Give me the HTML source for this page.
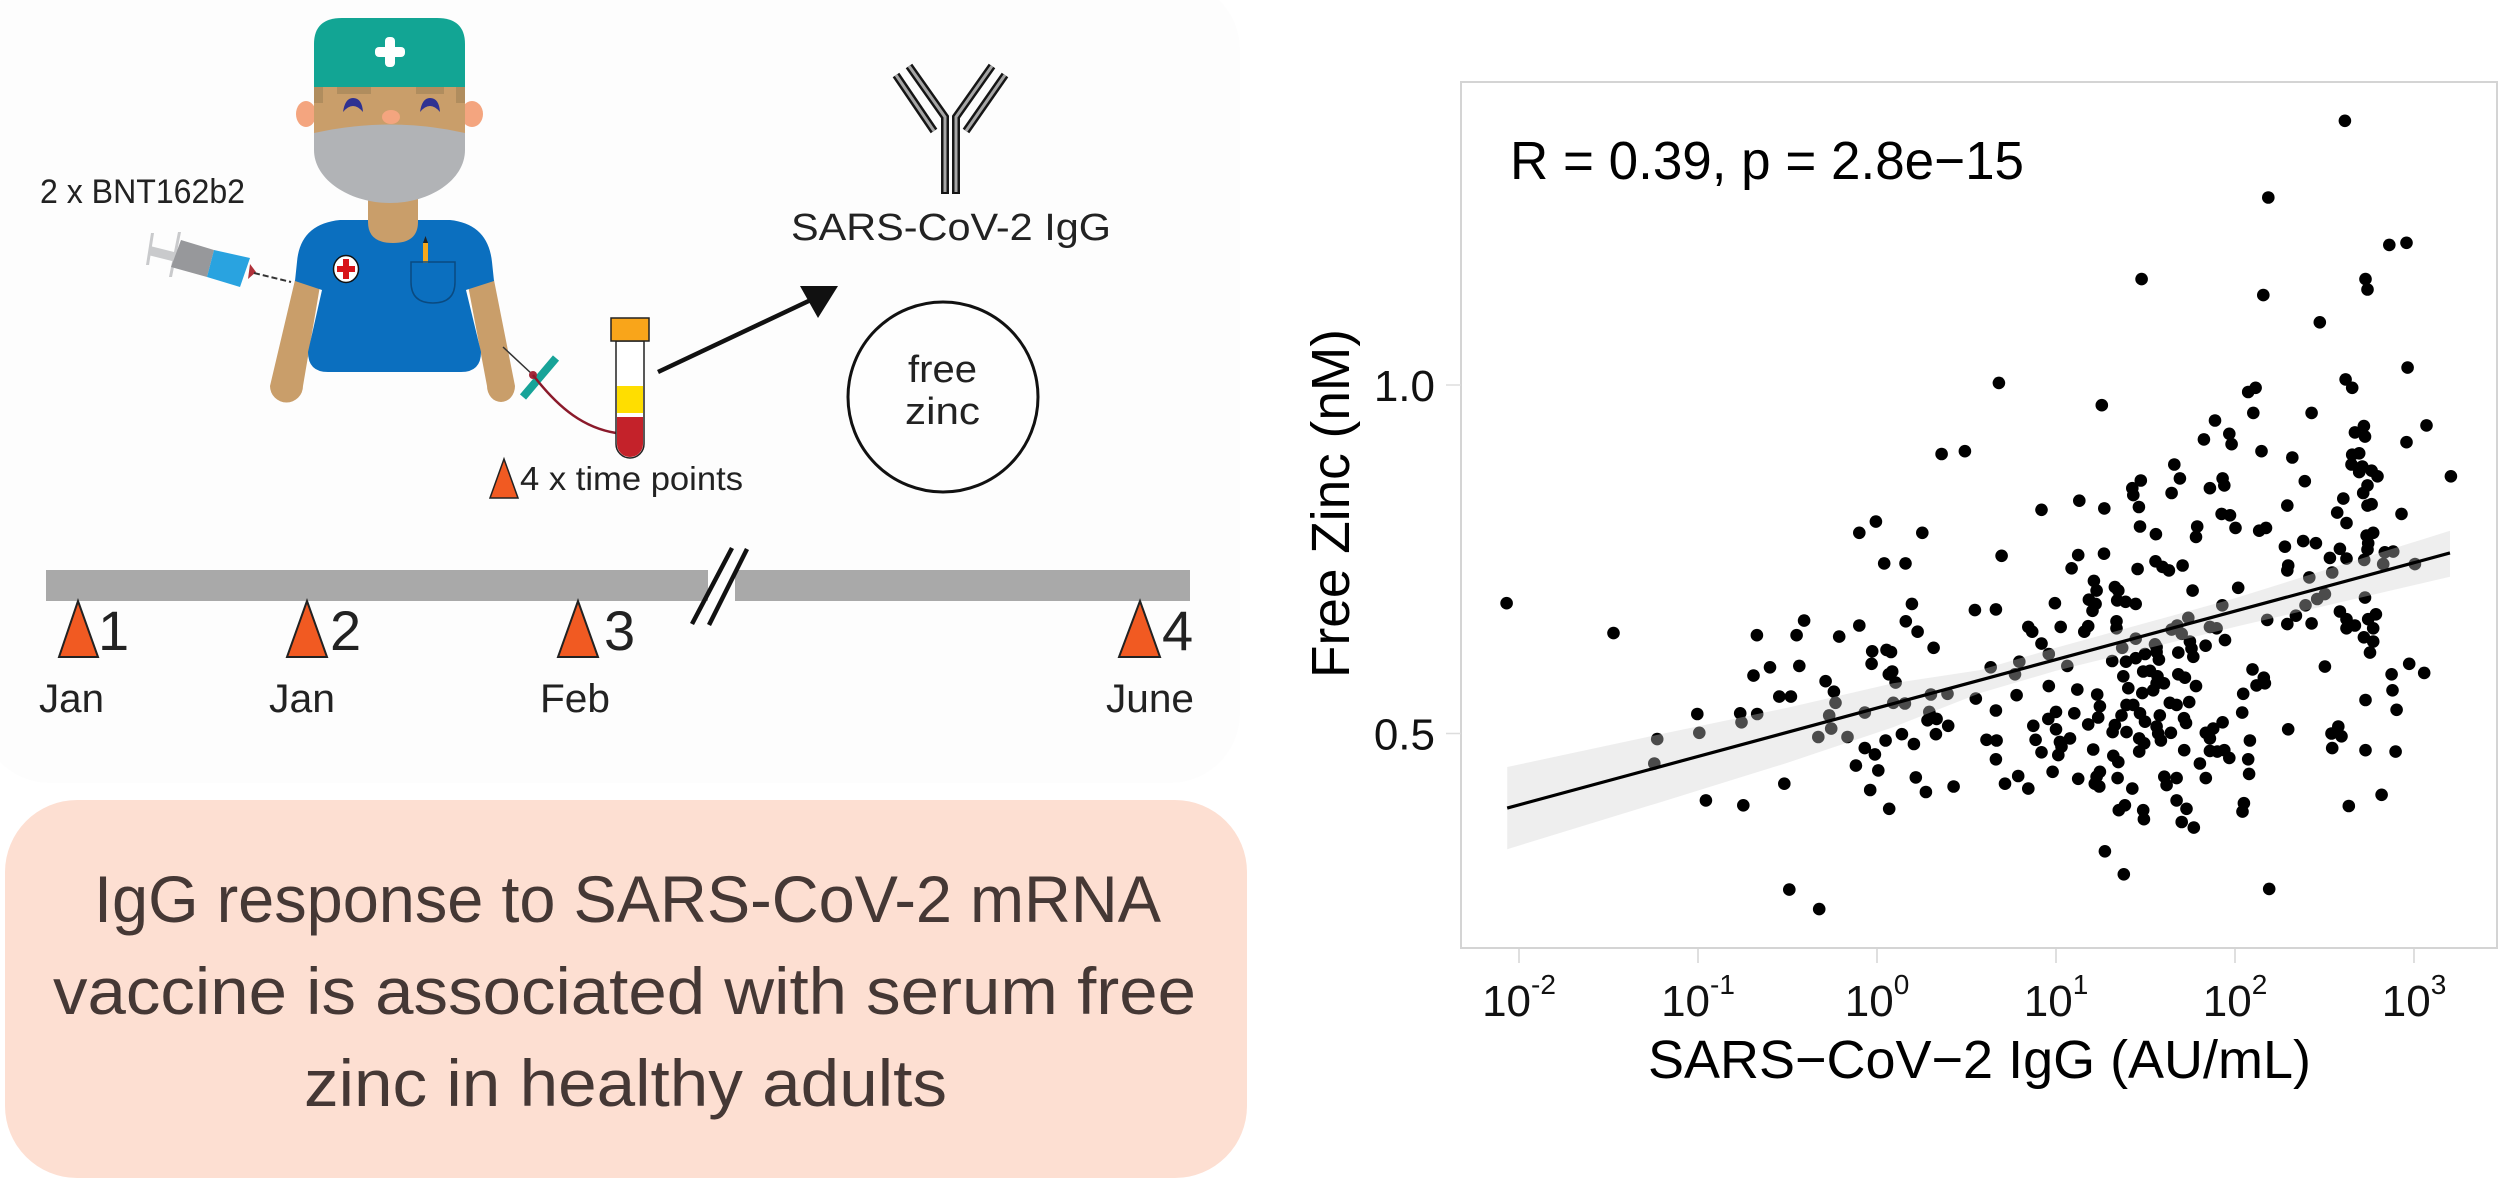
<!DOCTYPE html>
<html lang="en">
<head>
<meta charset="utf-8">
<title>IgG response and serum free zinc</title>
<style>
html,body{margin:0;padding:0;background:#fff;width:2500px;height:1181px;overflow:hidden}
svg{display:block}
text{font-family:"Liberation Sans",sans-serif}
</style>
</head>
<body>
<svg id="fig" xmlns="http://www.w3.org/2000/svg" width="2500" height="1181" viewBox="0 0 2500 1181">
<rect x="0" y="0" width="2500" height="1181" fill="#ffffff"/>
<rect x="-20" y="-20" width="1260" height="803" rx="70" fill="#fdfdfd"/>

<g>
  <path d="M295 280 L321 280 L303 386 A16.5 16.5 0 0 1 270 386 Z" fill="#c99e6a"/>
  <path d="M467 280 L494 280 L515 386 A14 16 0 0 1 487 386 Z" fill="#c99e6a"/>
  <path d="M340 220 H450 Q488 224 492 262 L494 281 L466 290 L481 352 Q481 372 461 372 H328 Q308 372 308 352 L322 290 L295 281 L297 262 Q300 224 340 220 Z" fill="#0b6fbf"/>
  <path d="M368 195 H418 V222 Q418 243 393 243 Q368 243 368 222 Z" fill="#c99e6a"/>
  <ellipse cx="306" cy="114" rx="10" ry="13" fill="#f4a57f"/>
  <ellipse cx="472" cy="114" rx="11" ry="13" fill="#f4a57f"/>
  <rect x="314" y="85" width="151" height="55" fill="#c99e6a"/>
  <rect x="314" y="87" width="9" height="16" fill="#b08d5e"/>
  <rect x="456" y="87" width="9" height="16" fill="#b08d5e"/>
  <rect x="337" y="87" width="34" height="7" fill="#b08d5e"/>
  <rect x="416" y="87" width="28" height="7" fill="#b08d5e"/>
  <path d="M343 112 Q345 98 353 98 Q362 98 363 112 Q353 100 343 112 Z" fill="#2e3192"/>
  <path d="M420 112 Q422 98 430 98 Q439 98 440 112 Q430 100 420 112 Z" fill="#2e3192"/>
  <ellipse cx="391" cy="117" rx="9" ry="7" fill="#f4a57f"/>
  <path d="M314 133 Q390 116 465 133 V150 C465 180 430 203 390 203 C350 203 314 180 314 150 Z" fill="#b1b3b6"/>
  <path d="M314 87 V44 Q314 18 342 18 H437 Q465 18 465 44 V87 Z" fill="#12a594"/>
  <rect x="385" y="37" width="10" height="30" rx="4" fill="#ffffff"/>
  <rect x="375" y="47" width="30" height="10" rx="4" fill="#ffffff"/>
  <ellipse cx="346" cy="269" rx="12.5" ry="13.5" fill="#ffffff" stroke="#111" stroke-width="1.5"/>
  <rect x="343" y="259" width="6" height="20" fill="#d7141a"/>
  <rect x="337" y="266" width="18" height="6" fill="#d7141a"/>
  <rect x="423" y="243" width="5" height="20" fill="#f7a81b"/>
  <path d="M423 243 L425.5 236 L428 243 Z" fill="#222"/>
  <path d="M411 262 H455 V282 Q455 303 433 303 Q411 303 411 282 Z" fill="none" stroke="#0a4a80" stroke-width="1.5"/>
</g>

<g>
  <polygon points="150,246 178,253 176,262 148,255" fill="#c9cacc"/>
  <polygon points="151,233 154,233 149,265 146,265" fill="#c9cacc"/>
  <polygon points="178,232 181,232 172,277 169,277" fill="#c9cacc"/>
  <polygon points="181,240 214,250 207,277 171,267" fill="#97989b"/>
  <polygon points="214,250 250,258 240,287 207,277" fill="#29a3e0"/>
  <polygon points="250,264 256,272 248,279" fill="#b0313a"/>
  <line x1="254" y1="273" x2="291" y2="282" stroke="#333" stroke-width="2" stroke-dasharray="6 3"/>
</g>
<text x="40" y="203" font-size="34" textLength="205" lengthAdjust="spacingAndGlyphs" fill="#222">2 x BNT162b2</text>

<g>
  <line x1="503" y1="347" x2="533" y2="375" stroke="#333" stroke-width="1.5"/>
  <line x1="556" y1="358" x2="523" y2="397" stroke="#17a398" stroke-width="8"/>
  <circle cx="533" cy="375" r="4" fill="#a3283a"/>
  <path d="M533 375 C560 410 585 428 616 433" fill="none" stroke="#8b1a2b" stroke-width="2.5"/>
  <path d="M616 341 H644 V444 A14 14 0 0 1 616 444 Z" fill="#ffffff" stroke="#222" stroke-width="1.5"/>
  <rect x="617" y="386" width="26" height="27" fill="#ffde00"/>
  <path d="M617 417 H643 V444 A13 13 0 0 1 617 444 Z" fill="#c4222a"/>
  <rect x="611" y="318" width="38" height="23" fill="#f9a51a" stroke="#222" stroke-width="1.5"/>
</g>

<g>
  <line x1="658" y1="372" x2="815" y2="298" stroke="#111" stroke-width="4.5"/>
  <polygon points="838,286 800,286 818,318" fill="#111"/>
</g>

<g fill="none">
  <g stroke="#151515" stroke-width="8">
    <polyline points="896,75 934,131"/>
    <polyline points="909,66 945,117 945,194"/>
    <polyline points="992,66 956,117 956,194"/>
    <polyline points="1005,75 966,131"/>
  </g>
  <g stroke="#a5a5a5" stroke-width="3">
    <polyline points="896,75 934,131"/>
    <polyline points="909,66 945,117 945,192"/>
    <polyline points="992,66 956,117 956,192"/>
    <polyline points="1005,75 966,131"/>
  </g>
</g>
<text x="791" y="240" font-size="38" textLength="320" lengthAdjust="spacingAndGlyphs" fill="#222">SARS-CoV-2 IgG</text>

<circle cx="943" cy="397" r="95" fill="#fefefe" stroke="#111" stroke-width="3"/>
<text x="908" y="382" font-size="38" textLength="69" lengthAdjust="spacingAndGlyphs" fill="#222">free</text>
<text x="905" y="424" font-size="38" textLength="75" lengthAdjust="spacingAndGlyphs" fill="#222">zinc</text>

<polygon points="504,459 518,498 490,498" fill="#f15a22" stroke="#222" stroke-width="1.5"/>
<text x="520" y="490" font-size="33" textLength="223" lengthAdjust="spacingAndGlyphs" fill="#222">4 x time points</text>

<g>
  <rect x="46" y="570" width="662" height="31" fill="#a9a9a9"/>
  <rect x="735" y="570" width="455" height="31" fill="#a9a9a9"/>
  <line x1="747" y1="549" x2="709" y2="625" stroke="#111" stroke-width="4.5"/>
  <line x1="732" y1="548" x2="692" y2="624" stroke="#111" stroke-width="4.5"/>
  <polygon points="78,601 98,657 59,657" fill="#f15a22" stroke="#222" stroke-width="2"/>
  <polygon points="307,601 327,657 287,657" fill="#f15a22" stroke="#222" stroke-width="2"/>
  <polygon points="578,601 598,657 558,657" fill="#f15a22" stroke="#222" stroke-width="2"/>
  <polygon points="1140,601 1160,657 1119,657" fill="#f15a22" stroke="#222" stroke-width="2"/>
  <text x="98" y="650" font-size="56" fill="#222">1</text>
  <text x="330" y="650" font-size="56" fill="#222">2</text>
  <text x="604" y="650" font-size="56" fill="#222">3</text>
  <text x="1162" y="650" font-size="56" fill="#222">4</text>
  <text x="39" y="712" font-size="40" textLength="65" lengthAdjust="spacingAndGlyphs" fill="#222">Jan</text>
  <text x="269" y="712" font-size="40" textLength="66" lengthAdjust="spacingAndGlyphs" fill="#222">Jan</text>
  <text x="540" y="712" font-size="40" textLength="70" lengthAdjust="spacingAndGlyphs" fill="#222">Feb</text>
  <text x="1106" y="712" font-size="40" textLength="88" lengthAdjust="spacingAndGlyphs" fill="#222">June</text>
</g>

<g>
  <rect x="5" y="800" width="1242" height="378" rx="72" fill="#fddfd2"/>
  <text x="94" y="922" font-size="66" textLength="1067" lengthAdjust="spacingAndGlyphs" fill="#453835">IgG response to SARS-CoV-2 mRNA</text>
  <text x="53" y="1014" font-size="66" textLength="1143" lengthAdjust="spacingAndGlyphs" fill="#453835">vaccine is associated with serum free</text>
  <text x="304" y="1106" font-size="66" textLength="643" lengthAdjust="spacingAndGlyphs" fill="#453835">zinc in healthy adults</text>
</g>

<g id="chart"></g>
</svg>

<script>
const xTickExponents = ["-2", "-1", "0", "1", "2", "3"];
const yTickValues = [0.5, 1.0];
const statsLabel = "R = 0.39, p = 2.8e\u221215";
const iggLog10 = [
1.469,1.558,1.789,1.782,2.003,2.135,2.173,2.623,2.735,2.772,
2.744,2.740,2.279,2.381,2.452,2.586,2.530,2.623,2.722,2.837,
2.884,2.828,3.005,2.297,2.292,2.415,2.543,2.502,2.459,2.394,
2.340,2.292,2.428,2.180,2.018,1.929,1.763,1.739,1.677,1.646,
1.702,1.860,1.897,1.944,1.836,1.748,1.757,1.767,1.683,2.726,
2.586,2.623,2.670,2.623,2.787,2.744,2.772,2.720,2.772,2.754,
2.502,2.973,2.875,3.057,2.880,2.729,2.903,2.297,2.577,2.539,
2.595,2.543,2.729,2.897,2.819,2.636,2.191,1.379,1.273,0.696,
1.124,1.268,1.087,1.456,1.556,1.595,1.631,1.707,1.212,1.227,
1.184,1.221,1.204,1.329,1.348,1.342,1.389,1.445,0.994,0.664,
0.845,0.867,1.026,1.180,1.158,1.338,1.338,0.919,0.960,0.795,
0.635,0.771,1.063,1.370,1.445,1.553,1.314,1.391,1.445,1.497,
1.562,1.575,1.562,1.487,1.525,1.567,1.562,1.603,1.376,1.404,
1.482,1.543,1.683,1.720,1.782,2.098,2.161,2.120,2.167,2.046,
2.040,0.960,1.119,0.780,1.230,1.245,0.664,1.000,0.957,1.102,
1.000,0.873,1.180,1.236,1.636,1.674,1.744,1.394,1.432,1.366,
1.469,1.497,1.580,1.562,1.715,1.726,1.329,1.316,1.394,1.571,
1.642,1.586,1.465,1.493,1.465,1.931,1.878,1.837,1.860,2.083,
0.886,0.612,0.668,1.078,1.022,1.013,0.919,1.208,1.716,1.860,
1.901,1.940,1.968,2.074,0.664,1.320,1.348,1.804,0.981,0.789,
0.715,0.845,1.124,1.245,1.217,1.242,1.344,1.426,1.605,1.674,
1.618,1.837,2.079,1.674,1.729,2.050,2.042,1.385,1.351,1.487,
1.491,1.702,1.770,1.227,1.031,
2.614,2.186,2.862,2.958,1.478,2.158,2.729,2.740,2.474,2.964,
0.681,1.256,2.618,2.655,2.115,2.074,2.102,2.428,1.888,2.720,
2.670,2.726,3.070,1.826,1.968,1.981,2.148,2.958,2.320,2.694,
2.655,2.651,2.711,2.694,2.763,2.796,3.206,1.661,1.692,1.474,
1.426,1.432,1.931,1.940,1.860,1.646,2.390,2.740,2.716,2.605,
1.130,0.919,1.270,1.463,2.292,2.763,2.740,1.925,1.972,2.571,
2.930,
0.361,0.491,
-0.006,-0.099,0.253,0.040,0.159,-2.069,-1.472,0.195,0.547,0.161,
-0.099,-0.407,0.227,-0.671,-0.449,-0.211,0.316,-0.027,0.053,0.078,
-0.598,-0.434,-0.030,-0.690,0.085,0.066,-0.287,0.104,-0.241,-0.546,
-0.481,-1.004,-0.764,-0.669,-0.232,0.091,0.156,0.301,0.394,0.552,
-0.068,-0.267,0.292,0.282,0.308,0.333,-0.757,-0.993,-1.228,-0.256,
-0.328,-0.165,0.139,0.398,0.329,0.048,0.206,-0.068,-0.012,-1.244,
-0.118,0.007,0.217,-0.518,-0.038,0.273,0.428,-0.956,-0.747,0.068,
-0.490,-0.323
];
const freeZinc = [
.797,.786,.797,.782,.795,.791,.795,.802,.784,.788,
.773,.764,.768,.776,.773,.765,.752,.751,.749,.760,
.761,.743,.743,.741,.734,.724,.731,.700,.693,.684,
.669,.657,.658,.663,.709,.684,.705,.666,.655,.649,
.643,.653,.651,.634,.626,.632,.622,.610,.616,.695,
.675,.664,.655,.651,.671,.664,.651,.638,.632,.616,
.596,.600,.585,.587,.562,.548,.534,.506,.510,.500,
.496,.479,.476,.474,.412,.396,.277,.298,.331,.755,
.756,.758,.737,.736,.747,.739,.734,.741,.719,.705,
.692,.686,.676,.710,.705,.691,.689,.686,.687,.678,
.653,.646,.653,.654,.646,.661,.651,.629,.614,.603,
.595,.585,.597,.623,.636,.628,.604,.603,.608,.614,
.617,.606,.624,.589,.590,.582,.572,.572,.582,.565,
.558,.562,.585,.580,.568,.592,.580,.569,.572,.557,
.530,.568,.563,.555,.556,.539,.533,.531,.521,.529,
.506,.511,.513,.523,.544,.541,.545,.541,.541,.526,
.529,.517,.526,.510,.522,.515,.512,.502,.502,.500,
.501,.490,.493,.486,.474,.516,.507,.501,.493,.490,
.491,.491,.490,.493,.488,.469,.473,.477,.476,.475,
.474,.476,.465,.463,.463,.468,.459,.457,.445,.439,
.428,.421,.435,.445,.428,.424,.436,.421,.438,.436,
.426,.436,.442,.404,.392,.400,.388,.397,.390,.390,
.377,.373,.365,.438,.481,
1.379,1.269,1.201,1.204,1.152,1.129,1.152,1.137,1.090,1.025,
1.003,.971,1.008,.996,.996,.990,.960,.960,.949,.941,
.932,.926,.942,.922,.930,.915,.905,.918,.896,.902,
.900,.886,.883,.875,.877,.869,.869,.886,.866,.863,
.852,.842,.866,.856,.852,.845,.862,.856,.845,.837,
.834,.821,.823,.825,.827,.829,.827,.815,.813,.817,
.815,
.901,.905,
.804,.788,.788,.744,.744,.687,.644,.686,.677,.661,
.655,.662,.646,.641,.641,.639,.623,.618,.620,.617,
.595,.597,.600,.583,.589,.585,.575,.573,.560,.553,
.553,.528,.529,.528,.544,.544,.543,.556,.557,.550,
.530,.526,.531,.519,.523,.521,.516,.501,.492,.507,
.495,.495,.499,.511,.499,.490,.485,.479,.470,.457,
.454,.447,.437,.428,.419,.416,.424,.404,.397,.392,
.276,.248
];
const fitLog10 = [-2.066, 3.201];
const fitZinc = [0.393, 0.759];
const ciLog10 = [-2.066, -1.228, -0.5, 0.09, 0.575, 1, 2, 3.201];
const ciUpper = [0.452, 0.498, 0.537, 0.572, 0.591, 0.623, 0.694, 0.791];
const ciLower = [0.334, 0.400, 0.458, 0.509, 0.558, 0.590, 0.653, 0.725];

const NS = "http://www.w3.org/2000/svg";
const chart = document.getElementById("chart");
const xScale = v => 1877 + 179 * v;
const yScale = v => 385 + 697 * (1 - v);
const plotLeft = 1461, plotRight = 2497, plotTop = 82, plotBottom = 948;

function make(tag, attrs, parent) {
  const el = document.createElementNS(NS, tag);
  for (const k in attrs) el.setAttribute(k, attrs[k]);
  (parent || chart).appendChild(el);
  return el;
}

const frame = make("rect", {x: plotLeft, y: plotTop, width: plotRight - plotLeft, height: plotBottom - plotTop, fill: "#ffffff", stroke: "#d4d4d4", "stroke-width": 2});



const pointsGroup = make("g", {fill: "#000000"});


iggLog10.forEach((v, i) => {
  const dot = make("circle", {cx: xScale(v).toFixed(1), cy: yScale(freeZinc[i]).toFixed(1), r: 6.3}, pointsGroup);
  
  
});

const upperPath = ciLog10.map((v, i) => xScale(v).toFixed(1) + "," + yScale(ciUpper[i]).toFixed(1));
const lowerPath = ciLog10.map((v, i) => xScale(v).toFixed(1) + "," + yScale(ciLower[i]).toFixed(1)).reverse();
const ribbon = make("polygon", {points: upperPath.concat(lowerPath).join(" "), fill: "#d0d0d0", "fill-opacity": 0.36});



const fitLine = make("line", {x1: xScale(fitLog10[0]), y1: yScale(fitZinc[0]), x2: xScale(fitLog10[1]), y2: yScale(fitZinc[1]), stroke: "#000000", "stroke-width": 3.2});



xTickExponents.forEach(exp => {
  const px = xScale(Number(exp));
  const tick = make("line", {x1: px, y1: plotBottom, x2: px, y2: 963, stroke: "#d4d4d4", "stroke-width": 1.5});
  
  
  const label = make("text", {x: px, y: 1016, "font-size": 44, "text-anchor": "middle", fill: "#111"});
  
  
  const base = make("tspan", {}, label);
  base.textContent = "10";
  const power = make("tspan", {dy: -22, "font-size": 28}, label);
  power.textContent = exp;
});

yTickValues.forEach(v => {
  const py = yScale(v);
  const tick = make("line", {x1: 1446, y1: py, x2: plotLeft, y2: py, stroke: "#dddddd", "stroke-width": 1.5});
  
  
  const label = make("text", {x: 1435, y: py + 16, "font-size": 44, "text-anchor": "end", fill: "#111"});
  
  
  label.textContent = v.toFixed(1);
});

const stats = make("text", {x: 1510, y: 179, "font-size": 54, textLength: 514, lengthAdjust: "spacingAndGlyphs", fill: "#000"});


stats.textContent = statsLabel;

const xTitle = make("text", {x: 1648, y: 1078, "font-size": 54, textLength: 663, lengthAdjust: "spacingAndGlyphs", fill: "#000"});


xTitle.textContent = "SARS\u2212CoV\u22122 IgG (AU/mL)";

const yTitle = make("text", {x: 0, y: 0, "font-size": 54, textLength: 349, lengthAdjust: "spacingAndGlyphs", fill: "#000", transform: "translate(1349 678) rotate(-90)"});


yTitle.textContent = "Free Zinc (nM)";
</script>
</body>
</html>
